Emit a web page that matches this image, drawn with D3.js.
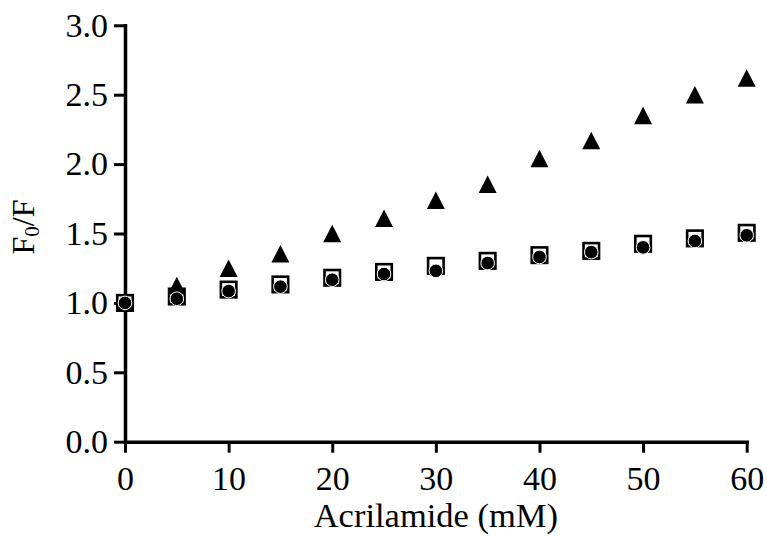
<!DOCTYPE html>
<html>
<head>
<meta charset="utf-8">
<script src="https://cdn.jsdelivr.net/npm/d3@7"></script>
<style>
  html, body { margin: 0; padding: 0; background: #fff; }
  svg { display: block; }
  text { font-family: "Liberation Serif", "Times New Roman", serif; fill: #000; }
</style>
</head>
<body>
<svg id="chart" width="767" height="537"></svg>
<script>
// Acrylamide concentration (mM)
const concentrations = [0, 5, 10, 15, 20, 25, 30, 35, 40, 45, 50, 55, 60];
// F0/F quenching ratios, one array per sample
const triangleSeries = [1.00, 1.125, 1.25, 1.354, 1.50, 1.61, 1.74, 1.855, 2.04, 2.17, 2.35, 2.50, 2.62];
const squareSeries   = [1.00, 1.046, 1.096, 1.133, 1.181, 1.223, 1.267, 1.303, 1.344, 1.375, 1.426, 1.465, 1.505];
const circleSeries   = [1.00, 1.03, 1.085, 1.117, 1.167, 1.208, 1.231, 1.287, 1.331, 1.366, 1.40, 1.446, 1.487];
// Axis ticks
const xTicks = [0, 10, 20, 30, 40, 50, 60];
const yTicks = [0.0, 0.5, 1.0, 1.5, 2.0, 2.5, 3.0];

const svg = d3.select("#chart");
const plotLeft = 125, plotRight = 746.7, plotTop = 25.3, plotBottom = 441.7;
const fontStack = '"Liberation Serif", "Times New Roman", serif';

const x = d3.scaleLinear().domain([0, 60]).range([plotLeft, plotRight]);
const y = d3.scaleLinear().domain([0, 3]).range([plotBottom, plotTop]);

// Axes
const xAxis = d3.axisBottom(x).tickValues(xTicks).tickFormat(d3.format("d")).tickSize(11).tickSizeOuter(0).tickPadding(13);
const yAxis = d3.axisLeft(y).tickValues(yTicks).tickFormat(d3.format(".1f")).tickSize(11).tickSizeOuter(0).tickPadding(6);

const gx = svg.append("g").attr("transform", `translate(0,${plotBottom})`).call(xAxis);
const gy = svg.append("g").attr("transform", `translate(${plotLeft},0)`).call(yAxis);

[gx, gy].forEach(g => {
  g.attr("font-family", fontStack);
  g.select(".domain").attr("stroke", "#000").attr("stroke-width", 3.5).attr("stroke-linecap", "square");
  g.selectAll(".tick line").attr("stroke", "#000").attr("stroke-width", 3);
  g.selectAll(".tick text").attr("font-size", 34).attr("fill", "#000")
    .style("font-family", fontStack);
});
gx.selectAll(".tick text").attr("dy", "0.71em");

// Axis titles
svg.append("text")
  .attr("x", (plotLeft + plotRight) / 2)
  .attr("y", 527)
  .attr("text-anchor", "middle")
  .attr("font-size", 34.5)
  .text("Acrilamide (mM)");

const yTitle = svg.append("text")
  .attr("transform", "translate(34,227) rotate(-90)")
  .attr("text-anchor", "middle")
  .attr("font-size", 32);
yTitle.append("tspan").text("F");
yTitle.append("tspan").attr("font-size", 21).attr("dy", 5).text("0");
yTitle.append("tspan").attr("dy", -5).text("/F");

// Data points
const pts = s => concentrations.map((c, i) => ({ c, v: s[i] }));

// Open squares
const sq = 15.5;
svg.append("g").selectAll("rect").data(pts(squareSeries)).join("rect")
  .attr("x", d => x(d.c) - sq / 2)
  .attr("y", d => y(d.v) - sq / 2)
  .attr("width", sq).attr("height", sq)
  .attr("fill", "none").attr("stroke", "#000").attr("stroke-width", 2.6);

// Filled triangles
const tw = 18, th = 17.5;
const triPath = (cx, cy) => {
  const p = d3.path();
  p.moveTo(cx, cy - th / 2);
  p.lineTo(cx + tw / 2, cy + th / 2);
  p.lineTo(cx - tw / 2, cy + th / 2);
  p.closePath();
  return p.toString();
};
svg.append("g").selectAll("path").data(pts(triangleSeries)).join("path")
  .attr("d", d => triPath(x(d.c), y(d.v)))
  .attr("fill", "#000");

// Filled circles
svg.append("g").selectAll("circle").data(pts(circleSeries)).join("circle")
  .attr("cx", d => x(d.c))
  .attr("cy", d => y(d.v))
  .attr("r", 6.8)
  .attr("fill", "#000").attr("stroke", "#fff").attr("stroke-width", 1);
</script>
</body>
</html>
